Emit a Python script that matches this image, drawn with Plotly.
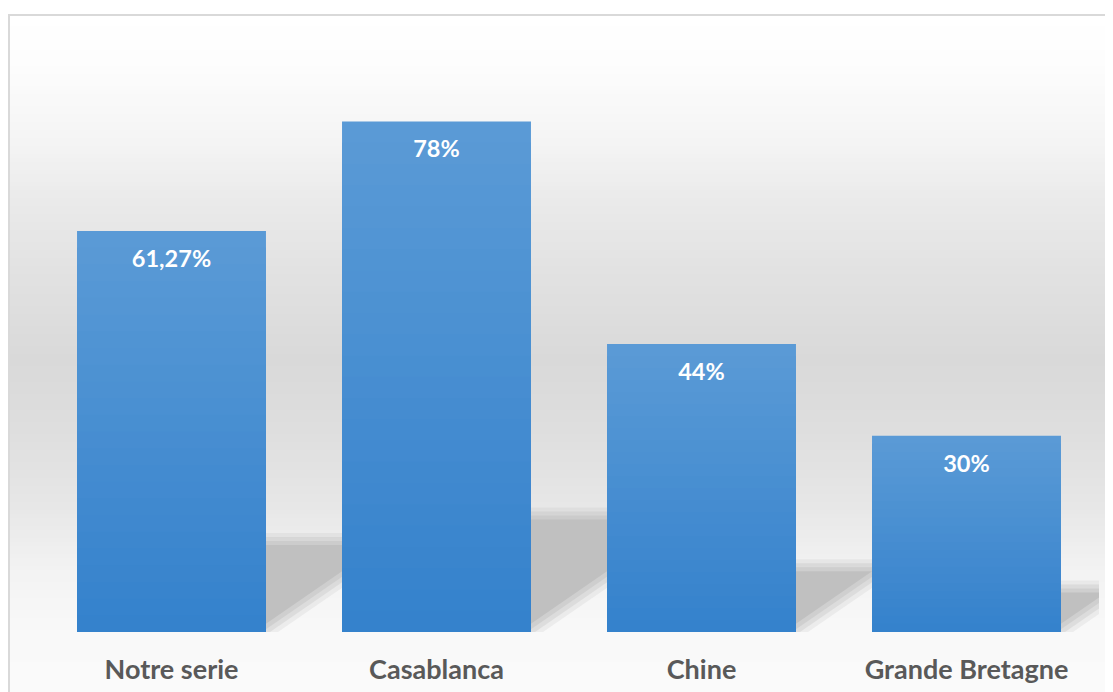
import numpy as np
import plotly.graph_objects as go

# ---------------- data ----------------
categories = ["Notre serie", "Casablanca", "Chine", "Grande Bretagne"]
values = [61.27, 78, 44, 30]
value_labels = ["61,27%", "78%", "44%", "30%"]

# ---------------- layout geometry / style ----------------
OFF = 8                      # page body margin
W, H = 1113 - OFF, 692 - OFF
ML, MR, MT, MB = 31, 14, 35, 60
PW, PH = W - ML - MR, H - MT - MB
YMAX = 90
BAR_W = 0.713
FONT = "Lato"

x = np.arange(len(categories))
v = np.array(values, dtype=float)
dxu = len(categories) / PW   # data-x per pixel
dyu = YMAX / PH              # data-y per pixel


def pxx(px):  # page px -> paper x
    return (px - OFF - ML) / PW


def pxy(py):  # page px -> paper y
    return (H - MB - (py - OFF)) / PH


shapes = []

# background vertical gradient (white -> grey -> near white)
stops_y = [14, 60, 100, 150, 200, 280, 360, 430, 500, 567, 633, 692]
stops_g = [255, 253, 249, 243, 234, 225, 217, 222, 230, 242, 249, 250]
step = 4
for a in range(14, 692, step):
    b = min(a + step, 692)
    g = int(round(np.interp((a + b) / 2, stops_y, stops_g)))
    shapes.append(dict(type="rect", xref="paper", yref="paper",
                       x0=pxx(9), x1=pxx(1130), y0=pxy(b + 0.6), y1=pxy(a),
                       fillcolor=f"rgb({g},{g},{g})", line=dict(width=0),
                       layer="below"))

# chart border
shapes.append(dict(type="rect", xref="paper", yref="paper",
                   x0=pxx(9), x1=pxx(1130), y0=pxy(720), y1=pxy(15),
                   line=dict(color="#d9d9d9", width=2), fillcolor="rgba(0,0,0,0)",
                   layer="below"))

# soft perspective shadows behind bars (derived from bar values)
SH_RATIO = 0.232
SHEAR = 1.45
shadow_layers = [(6, "rgba(190,190,190,0.2)"), (2, "rgba(190,190,190,0.33)"),
                 (-2, "rgba(190,190,190,0.45)"), (-6, "rgb(192,192,192)")]
for e, col in shadow_layers:
    for xi, vi in zip(x, v):
        top = SH_RATIO * vi + e * dyu
        xr = xi + BAR_W / 2 + e * 2.0 * dxu
        xt = xr + SHEAR * (top / dyu) * dxu
        path = f"M {xi},0 L {xr},0 L {xt},{top} L {xi},{top} Z"
        shapes.append(dict(type="path", xref="x", yref="y", path=path,
                           fillcolor=col, line=dict(width=0), layer="below"))

fig = go.Figure()

# bars with vertical gradient (nested overlay bars)
TOP = np.array([0x5B, 0x9B, 0xD6])
BOT = np.array([0x34, 0x81, 0xCC])
N = 24
for j in range(N):
    f = (N - j) / N
    c = BOT + (TOP - BOT) * (f - 0.5 / N)
    color = "rgb({},{},{})".format(*[int(round(t)) for t in c])
    fig.add_trace(go.Bar(
        x=x, y=v * f, width=BAR_W,
        marker=dict(color=color, line=dict(width=0)),
        showlegend=False,
        hoverinfo="skip" if j else "x+y",
        name="Valeur",
    ))

# value labels inside bars
fig.add_trace(go.Scatter(
    x=x, y=v - 30 * dyu, mode="text", text=value_labels,
    textfont=dict(family=FONT, size=23.5, color="white", weight="bold"),
    showlegend=False, hoverinfo="skip",
))

fig.update_layout(
    width=W, height=H,
    margin=dict(l=ML, r=MR, t=MT, b=MB, pad=0, autoexpand=False),
    barmode="overlay",
    paper_bgcolor="white",
    plot_bgcolor="rgba(0,0,0,0)",
    shapes=shapes,
    showlegend=False,
    xaxis=dict(range=[-0.5, len(categories) - 0.5], tickvals=x, ticktext=categories,
               showgrid=False, zeroline=False, showline=False, ticks="",
               tickfont=dict(family=FONT, size=27, color="#595959", weight="bold"),
               ticklabelstandoff=19, automargin=False, fixedrange=True),
    yaxis=dict(range=[0, YMAX], visible=False, fixedrange=True, automargin=False),
)

fig.write_html("out.html")
